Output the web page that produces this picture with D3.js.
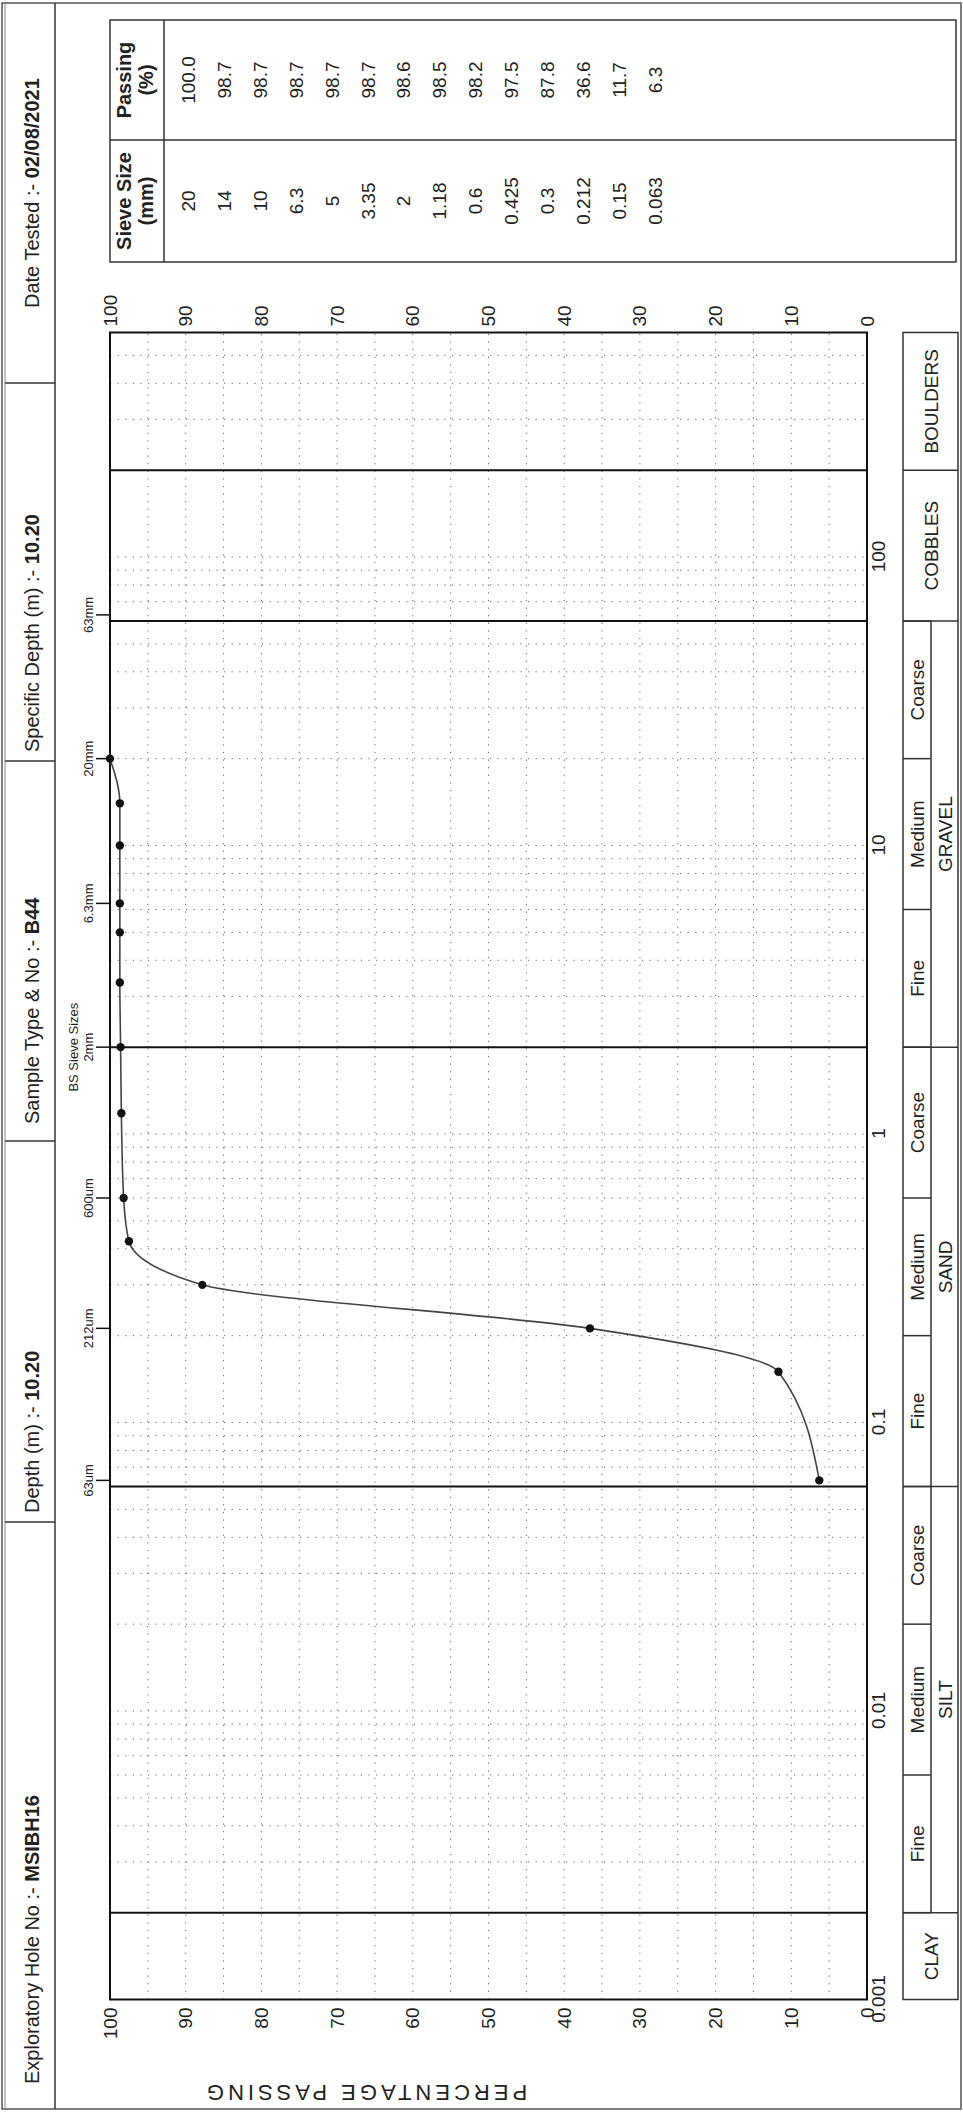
<!DOCTYPE html>
<html>
<head>
<meta charset="utf-8">
<script src="https://d3js.org/d3.v7.min.js"></script>
<style>
  body { margin: 0; background: #fff; }
  text { font-family: "Liberation Sans", Arial, sans-serif; fill: #222; }
</style>
</head>
<body>
<div id="chart"></div>
<script>

// ---- test results ----
var sieveSizes = [20, 14, 10, 6.3, 5, 3.35, 2, 1.18, 0.6, 0.425, 0.3, 0.212, 0.15, 0.063];
var passing    = [100.0, 98.7, 98.7, 98.7, 98.7, 98.7, 98.6, 98.5, 98.2, 97.5, 87.8, 36.6, 11.7, 6.3];

// ---- axes ----
var percentTicks = [0, 10, 20, 30, 40, 50, 60, 70, 80, 90, 100];
var sizeTicks = [0.001, 0.01, 0.1, 1, 10, 100];
var bsSieveLabels = ["63um", "212um", "600um", "2mm", "6.3mm", "20mm", "63mm"];
var bsSieveSizes  = [0.063, 0.212, 0.6, 2, 6.3, 20, 63];
var heavyLines = [0.002, 0.06, 2, 60, 200];

// ---- soil classes ----
var classNames  = ["CLAY", "SILT", "SAND", "GRAVEL", "COBBLES", "BOULDERS"];
var classBounds = [0.001, 0.002, 0.06, 2, 60, 200, 600];
var subNames  = ["Fine", "Medium", "Coarse", "Fine", "Medium", "Coarse", "Fine", "Medium", "Coarse"];
var subBounds = [0.002, 0.006, 0.02, 0.06, 0.2, 0.6, 2, 6, 20, 60];

// ---- header ----
var headerLabels = ["Exploratory Hole No :- ", "Depth (m) :- ", "Sample Type & No :- ", "Specific Depth (m) :- ", "Date Tested :- "];
var headerValues = ["MSIBH16", "10.20", "B44", "10.20", "02/08/2021"];

// ---- layout (landscape page, turned on its side at the end) ----
var W = 2112, H = 963;
var cellEdges = [3, 590, 971, 1351, 1729, 2109];
var cellPad = [25, 9, 17, 9, 75];

var svg = d3.select("#chart").append("svg")
    .attr("width", H)
    .attr("height", W);

svg.append("rect").attr("width", H).attr("height", W).attr("fill", "#fff");

var page = svg.append("g")
    .attr("transform", "translate(0," + W + ") rotate(-90)");

var x = d3.scaleLog().domain([0.001, 600]).range([112.5, 1779.5]);
var y = d3.scaleLinear().domain([0, 100]).range([867, 110]);

var ink = "#333";

// page frame
page.append("rect")
    .attr("x", 3).attr("y", 2).attr("width", 2106).attr("height", 959)
    .attr("fill", "none").attr("stroke", "#555").attr("stroke-width", 1.5);
page.append("line")
    .attr("x1", 3).attr("x2", 2109).attr("y1", 5).attr("y2", 5)
    .attr("stroke", "#888").attr("stroke-width", 1);

// header band
page.append("line")
    .attr("x1", 3).attr("x2", 2109).attr("y1", 55).attr("y2", 55)
    .attr("stroke", ink).attr("stroke-width", 1.5);
page.selectAll(".hsep")
    .data(cellEdges.slice(1, 5))
    .enter().append("line")
    .attr("x1", function(d) { return d; }).attr("x2", function(d) { return d; })
    .attr("y1", 5).attr("y2", 55)
    .attr("stroke", ink).attr("stroke-width", 1.5);

headerLabels.forEach(function(lab, i) {
  var t = page.append("text")
      .attr("x", cellEdges[i] + cellPad[i])
      .attr("y", 39)
      .style("font-size", "20px");
  t.append("tspan").text(lab);
  t.append("tspan").style("font-weight", "bold").text(headerValues[i]);
});

// grid
var grid = page.append("g");
grid.selectAll(".pg")
    .data(d3.range(5, 100, 5))
    .enter().append("line")
    .attr("x1", x(0.001)).attr("x2", x(600))
    .attr("y1", function(d) { return y(d); }).attr("y2", function(d) { return y(d); })
    .attr("stroke", "#666").attr("stroke-width", 1).attr("stroke-dasharray", "1.2,6.4");

var minor = x.ticks().filter(function(v) {
  if (v <= 0.001 * 1.001 || v >= 600 * 0.999) return false;
  return !heavyLines.some(function(h) { return Math.abs(v / h - 1) < 0.01; });
});
grid.selectAll(".sg")
    .data(minor)
    .enter().append("line")
    .attr("x1", function(d) { return x(d); }).attr("x2", function(d) { return x(d); })
    .attr("y1", y(100)).attr("y2", y(0))
    .attr("stroke", "#666").attr("stroke-width", 1).attr("stroke-dasharray", "1.2,6.4");

grid.selectAll(".hv")
    .data(heavyLines)
    .enter().append("line")
    .attr("x1", function(d) { return x(d); }).attr("x2", function(d) { return x(d); })
    .attr("y1", y(100)).attr("y2", y(0))
    .attr("stroke", "#111").attr("stroke-width", 2);

page.append("rect")
    .attr("x", x(0.001)).attr("y", y(100))
    .attr("width", x(600) - x(0.001)).attr("height", y(0) - y(100))
    .attr("fill", "none").attr("stroke", "#111").attr("stroke-width", 2);

// BS sieve markers along the top
page.append("text")
    .attr("x", x(2)).attr("y", 78)
    .attr("text-anchor", "middle")
    .style("font-size", "13px")
    .text("BS Sieve Sizes");
bsSieveSizes.forEach(function(s, i) {
  page.append("line")
      .attr("x1", x(s)).attr("x2", x(s))
      .attr("y1", 96).attr("y2", y(100))
      .attr("stroke", "#111").attr("stroke-width", 1.5);
  page.append("text")
      .attr("x", x(s)).attr("y", 93)
      .attr("text-anchor", "middle")
      .style("font-size", "13px")
      .text(bsSieveLabels[i]);
});

// axes
var axisL = page.append("g")
    .attr("transform", "translate(" + x(0.001) + ",0)")
    .call(d3.axisLeft(y).tickValues(percentTicks).tickSize(0).tickPadding(8));
var axisR = page.append("g")
    .attr("transform", "translate(" + x(600) + ",0)")
    .call(d3.axisRight(y).tickValues(percentTicks).tickSize(0).tickPadding(6));
var axisB = page.append("g")
    .attr("transform", "translate(0," + y(0) + ")")
    .call(d3.axisBottom(x).tickValues(sizeTicks).tickSize(0).tickPadding(5)
      .tickFormat(function(d) { return String(d); }));
[axisL, axisR, axisB].forEach(function(a) {
  a.select(".domain").remove();
  a.selectAll("text")
      .style("font-size", "19px")
      .style("font-family", "\"Liberation Sans\", Arial, sans-serif")
      .attr("fill", "#222");
});

page.append("text")
    .attr("transform", "translate(27,365) rotate(-90)")
    .attr("text-anchor", "middle")
    .style("font-size", "22px")
    .style("letter-spacing", "4px")
    .text("PERCENTAGE PASSING");

// grading curve
var pts = sieveSizes.map(function(s, i) { return { size: s, pass: passing[i] }; })
    .sort(function(a, b) { return a.size - b.size; });

var line = d3.line()
    .x(function(d) { return x(d.size); })
    .y(function(d) { return y(d.pass); })
    .curve(d3.curveMonotoneX);

page.append("path")
    .datum(pts)
    .attr("d", line)
    .attr("fill", "none")
    .attr("stroke", "#444")
    .attr("stroke-width", 1.6);

page.selectAll(".pt")
    .data(pts)
    .enter().append("circle")
    .attr("cx", function(d) { return x(d.size); })
    .attr("cy", function(d) { return y(d.pass); })
    .attr("r", 4.2)
    .attr("fill", "#111");

// classification bar
var barTop = 903, barMid = 931, barBot = 958;
var bar = page.append("g");
bar.append("rect")
    .attr("x", x(0.001)).attr("y", barTop)
    .attr("width", x(600) - x(0.001)).attr("height", barBot - barTop)
    .attr("fill", "none").attr("stroke", ink).attr("stroke-width", 1.5);
bar.append("line")
    .attr("x1", x(0.002)).attr("x2", x(60))
    .attr("y1", barMid).attr("y2", barMid)
    .attr("stroke", ink).attr("stroke-width", 1.5);
bar.selectAll(".cb")
    .data(classBounds.slice(1, 6))
    .enter().append("line")
    .attr("x1", function(d) { return x(d); }).attr("x2", function(d) { return x(d); })
    .attr("y1", barTop).attr("y2", barBot)
    .attr("stroke", ink).attr("stroke-width", 1.5);
bar.selectAll(".sb")
    .data(subBounds)
    .enter().append("line")
    .attr("x1", function(d) { return x(d); }).attr("x2", function(d) { return x(d); })
    .attr("y1", barTop).attr("y2", barMid)
    .attr("stroke", ink).attr("stroke-width", 1.5);

classNames.forEach(function(nm, i) {
  var a = x(classBounds[i]), b = x(classBounds[i + 1]);
  var split = (nm === "SILT" || nm === "SAND" || nm === "GRAVEL");
  bar.append("text")
      .attr("x", (a + b) / 2)
      .attr("y", split ? (barMid + barBot) / 2 + 7 : (barTop + barBot) / 2 + 7)
      .attr("text-anchor", "middle")
      .style("font-size", "19px")
      .text(nm);
});
subNames.forEach(function(nm, i) {
  var a = x(subBounds[i]), b = x(subBounds[i + 1]);
  bar.append("text")
      .attr("x", (a + b) / 2)
      .attr("y", (barTop + barMid) / 2 + 7)
      .attr("text-anchor", "middle")
      .style("font-size", "19px")
      .text(nm);
});

// results table
var tX0 = 1850, tXm = 1972, tX1 = 2092, tY0 = 110, tYh = 164, tY1 = 956;
var tab = page.append("g");
tab.append("rect")
    .attr("x", tX0).attr("y", tY0).attr("width", tX1 - tX0).attr("height", tY1 - tY0)
    .attr("fill", "none").attr("stroke", ink).attr("stroke-width", 1.5);
tab.append("line").attr("x1", tXm).attr("x2", tXm).attr("y1", tY0).attr("y2", tY1)
    .attr("stroke", ink).attr("stroke-width", 1.5);
tab.append("line").attr("x1", tX0).attr("x2", tX1).attr("y1", tYh).attr("y2", tYh)
    .attr("stroke", ink).attr("stroke-width", 1.5);

[["Sieve Size", "(mm)"], ["Passing", "(%)"]].forEach(function(h, i) {
  var cx = i === 0 ? (tX0 + tXm) / 2 : (tXm + tX1) / 2;
  tab.append("text").attr("x", cx).attr("y", 131).attr("text-anchor", "middle")
      .style("font-size", "20px").style("font-weight", "bold").text(h[0]);
  tab.append("text").attr("x", cx).attr("y", 153).attr("text-anchor", "middle")
      .style("font-size", "20px").style("font-weight", "bold").text(h[1]);
});

var rowStep = 35.9, row0 = 188;
tab.selectAll(".ts")
    .data(sieveSizes)
    .enter().append("text")
    .attr("x", (tX0 + tXm) / 2)
    .attr("y", function(d, i) { return row0 + i * rowStep + 7; })
    .attr("text-anchor", "middle")
    .style("font-size", "19px")
    .text(function(d) { return String(d); });
tab.selectAll(".tp")
    .data(passing)
    .enter().append("text")
    .attr("x", (tXm + tX1) / 2)
    .attr("y", function(d, i) { return row0 + i * rowStep + 7; })
    .attr("text-anchor", "middle")
    .style("font-size", "19px")
    .text(function(d) { return d3.format(".1f")(d); });

</script>
</body>
</html>
